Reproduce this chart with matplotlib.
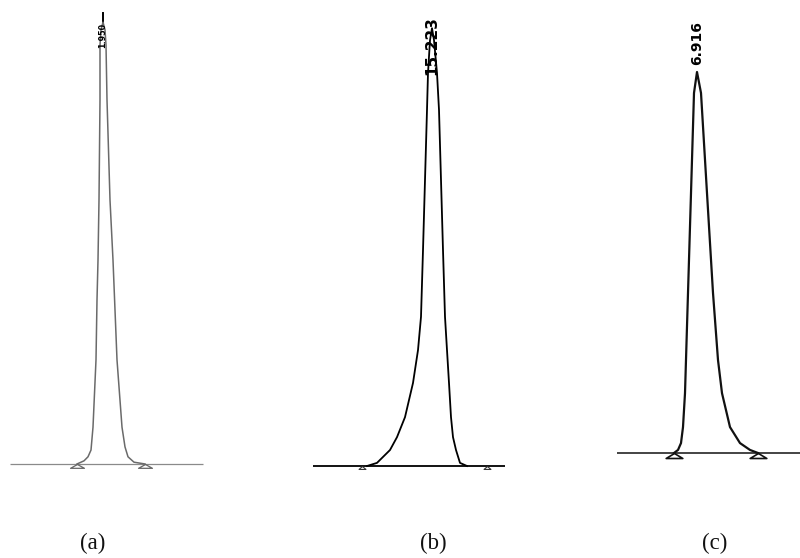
import matplotlib
matplotlib.use("Agg")
import matplotlib.pyplot as plt
from matplotlib.path import Path
from matplotlib.markers import MarkerStyle

# ---------------- data (time in min, signal in % of peak height) ----------------
# Peak (a)
a_label = "1.950"
a_time = [1.924, 1.931, 1.935, 1.938, 1.940, 1.943, 1.944, 1.945, 1.946, 1.947, 1.947,
          1.948, 1.950,
          1.952, 1.953, 1.954, 1.957, 1.960, 1.964, 1.969, 1.972, 1.975, 1.981, 1.992]
a_signal = [0, 0.7, 1.6, 3.1, 8.2, 23.2, 36.5, 45.4, 58.8, 81.1, 93.3,
            96.7, 98.4,
            96.7, 93.3, 81.1, 58.8, 45.4, 23.2, 8.2, 3.8, 1.6, 0.4, 0]
a_base_t = [1.857, 2.050]
a_marks = [1.924, 1.992]

# Peak (b)
b_label = "15.223"
b_time = [14.573, 14.673, 14.803, 14.873, 14.953, 15.033, 15.083, 15.113, 15.133, 15.153,
          15.173, 15.183, 15.203, 15.223,
          15.243, 15.273, 15.293, 15.313, 15.333, 15.353, 15.373, 15.393, 15.413, 15.433,
          15.463, 15.503, 15.573]
b_signal = [0, 0.7, 3.6, 6.5, 11.0, 18.7, 26.1, 33.6, 48.6, 64.4,
            80.2, 88.5, 95.9, 98.6,
            95.9, 88.5, 80.2, 64.4, 48.6, 33.6, 26.1, 18.7, 11.0, 6.5,
            3.6, 0.7, 0]
b_base_t = [14.033, 15.953]
b_marks = [14.523, 15.773]

# Peak (c)
c_label = "6.916"
c_time = [6.801, 6.821, 6.836, 6.846, 6.856, 6.871, 6.886, 6.901, 6.916,
          6.936, 6.966, 6.996, 7.021, 7.041, 7.081, 7.131, 7.181, 7.221]
c_signal = [0, 0.8, 2.6, 6.8, 15.7, 42.0, 68.2, 94.5, 100,
            94.5, 68.2, 42.0, 24.4, 15.7, 6.8, 2.6, 0.8, 0]
c_base_t = [6.516, 7.431]
c_marks = [6.801, 7.221]

panel_labels = ["(a)", "(b)", "(c)"]

# ---------------- figure ----------------
W, H = 800, 558
fig = plt.figure(figsize=(W / 100, H / 100), dpi=100)
fig.patch.set_facecolor("white")


def tri_marker(h):
    verts = [(0, 0), (-1, -h), (1, -h), (0, 0)]
    codes = [Path.MOVETO, Path.LINETO, Path.LINETO, Path.CLOSEPOLY]
    return MarkerStyle(Path(verts, codes))


panels = [
    dict(rect=(0, 0, 266, 558), xlim=(1.847, 2.113), ylim=(-20.94, 103.34),
         t=a_time, s=a_signal, bt=a_base_t, marks=a_marks, label=a_label,
         lc="#6a6a6a", lw=1.1, bc="#8a8a8a", blw=0.9, ms=10, mh=0.55, mlw=0.9, mc="#666666",
         lab_s=95.5, fs=5.8),
    dict(rect=(266, 0, 267, 558), xlim=(13.563, 16.233), ylim=(-20.72, 104.95),
         t=b_time, s=b_signal, bt=b_base_t, marks=b_marks, label=b_label,
         lc="black", lw=1.3, bc="black", blw=1.3, ms=5, mh=0.85, mlw=0.8, mc="#333333",
         lab_s=94.8, fs=11),
    dict(rect=(533, 0, 267, 558), xlim=(6.096, 7.431), ylim=(-27.56, 118.9),
         t=c_time, s=c_signal, bt=c_base_t, marks=c_marks, label=c_label,
         lc="#111111", lw=1.6, bc="#111111", blw=1.1, ms=12, mh=0.6, mlw=1.2, mc="#111111",
         lab_s=107.6, fs=10),
]

for p in panels:
    x0, y0, w, h = p["rect"]
    ax = fig.add_axes([x0 / W, y0 / H, w / W, h / H])
    ax.set_xlim(*p["xlim"])
    ax.set_ylim(*p["ylim"])
    ax.axis("off")
    ax.plot(p["bt"], [0, 0], color=p["bc"], lw=p["blw"], solid_capstyle="butt", zorder=2)
    ax.plot(p["t"], p["s"], color=p["lc"], lw=p["lw"], zorder=3)
    ax.plot(p["marks"], [0] * len(p["marks"]), linestyle="none",
            marker=tri_marker(p["mh"]), markersize=p["ms"],
            markerfacecolor="none", markeredgecolor=p["mc"], markeredgewidth=p["mlw"], zorder=4)
    apex_t = p["t"][p["s"].index(max(p["s"]))]
    ax.text(apex_t, p["lab_s"], p["label"], rotation=90, ha="center", va="center",
            fontsize=p["fs"], fontweight="bold", family="DejaVu Sans", color="black",
            zorder=5)

# small tick above label (a)
axa = fig.axes[0]
axa.plot([1.950, 1.950], [98.2, 100.4], color="black", lw=1.4)

# panel captions
for lab, px in zip(panel_labels, [93, 433, 715]):
    fig.text(px / W, 1 - 543 / H, lab, ha="center", va="center",
             fontsize=16.5, family="Liberation Serif", color="#111111")

fig.savefig("out.png", dpi=100, facecolor="white")
